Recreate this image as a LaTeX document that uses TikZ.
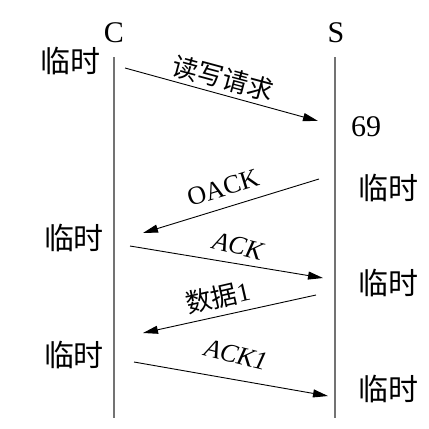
\documentclass[tikz,border=0pt]{standalone}
\usepackage{fontspec}
\setmainfont{Liberation Serif}
\newfontfamily\cjk{Noto Sans CJK SC}
\usetikzlibrary{arrows.meta}
\begin{document}
\begin{tikzpicture}[x=1pt,y=-1pt,
  life/.style={draw=gray!90!black, line width=1.5pt},
  msg/.style={draw=black, line width=0.9pt, -{Triangle[length=15pt,width=8pt]}},
  tmp/.style={font=\cjk\fontsize{30}{30}\selectfont, inner sep=0pt},
  ent/.style={font=\fontsize{30}{30}\selectfont, inner sep=0pt},
  lbl/.style={font=\fontsize{26}{26}\selectfont, inner sep=0pt},
  lat/.style={font=\fontsize{26}{26}\selectfont, inner sep=0pt}]
\useasboundingbox (0,0) rectangle (429,429);

% entities
\node[ent] (C) at (114,33) {C};
\node[ent] (S) at (336,33) {S};
\coordinate (ctop) at (114,57);
\coordinate (cbot) at (114,418);
\coordinate (stop) at (335,57);
\coordinate (sbot) at (335,418);
\draw[life] (ctop) -- (cbot);
\draw[life] (stop) -- (sbot);

% side texts
\node[tmp] (t1) at (71,61) {临时};
\node[tmp] (t2) at (74,238) {临时};
\node[tmp] (t3) at (74,355) {临时};
\node[tmp] (t4) at (388,188) {临时};
\node[tmp] (t5) at (388,283) {临时};
\node[tmp] (t6) at (388,389) {临时};
\node[ent] (p69) at (366,127) {69};

% message end points
\coordinate (a1) at (125,68);  \coordinate (b1) at (318,121);
\coordinate (a2) at (319,179); \coordinate (b2) at (143,233);
\coordinate (a3) at (130,246); \coordinate (b3) at (323,278);
\coordinate (a4) at (316,295); \coordinate (b4) at (143,333);
\coordinate (a5) at (134,362); \coordinate (b5) at (328,396);

\draw[msg] (a1) -- (b1);
\draw[msg] (a2) -- (b2);
\draw[msg] (a3) -- (b3);
\draw[msg] (a4) -- (b4);
\draw[msg] (a5) -- (b5);

% labels
\node[lbl, rotate=-15] (l1) at (223,78) {\cjk 读写请求};
\node[lat, rotate=17] (l2) at (223,188) {OACK};
\node[lat, rotate=-14] (l3) at (238,246) {\itshape ACK};
\node[lbl, rotate=13] (l4) at (218,297) {{\cjk 数据}1};
\node[lat, rotate=-14] (l5) at (236,355) {\itshape ACK1};
\end{tikzpicture}
\end{document}
